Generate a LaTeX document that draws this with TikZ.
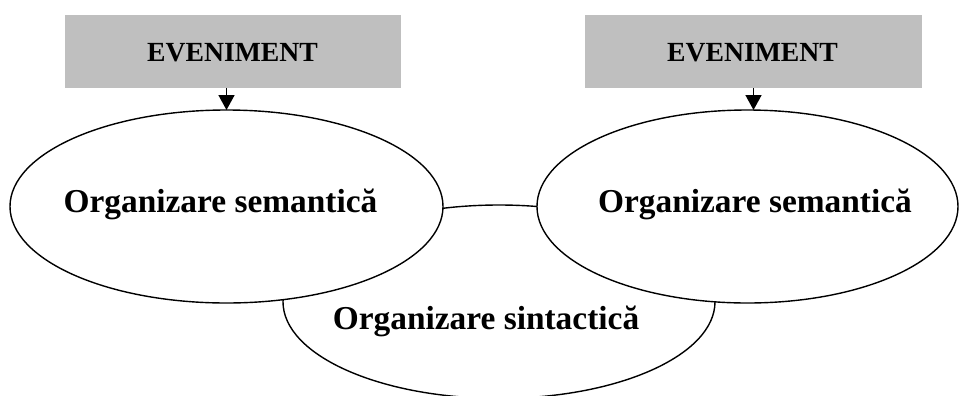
\documentclass[tikz,border=0pt]{standalone}
\usepackage{fontspec}
\setmainfont{Liberation Serif}
\usetikzlibrary{shapes.geometric,arrows.meta}
\definecolor{boxgray}{RGB}{191,191,191}
\tikzset{
  evbox/.style={fill=boxgray, draw=none, minimum width=336bp, minimum height=73bp, inner sep=0pt, outer sep=0pt},
  orgell/.style={ellipse, draw=black, fill=white, line width=1.4bp, inner sep=0pt, outer sep=0pt},
  evtext/.style={anchor=base, inner sep=0pt, font=\fontsize{27.7bp}{30bp}\selectfont\bfseries},
  orgtext/.style={anchor=base, inner sep=0pt, font=\fontsize{33.4bp}{36bp}\selectfont\bfseries},
  evarrow/.style={line width=1.6bp, -{Triangle[width=16bp,length=15bp]}}
}
\begin{document}
\begin{tikzpicture}[x=1bp,y=-1bp]
\useasboundingbox (0,0) rectangle (959,395);
% bottom ellipse first
\node[orgell, minimum width=432bp, minimum height=193.4bp] (sin) at (499,301.7) {};
\node[orgell, minimum width=433bp, minimum height=193bp] (semL) at (226.5,206.5) {};
\node[orgell, minimum width=421bp, minimum height=193bp] (semR) at (747.5,206.5) {};
% boxes
\node[evbox] (evL) at (233,51.5) {};
\node[evbox, minimum width=337bp] (evR) at (753.5,51.5) {};
% texts
\node[evtext] (tevL) at (232.5,61) {EVENIMENT};
\node[evtext] (tevR) at (752.5,61) {EVENIMENT};
\node[orgtext] (tsemL) at (220.5,212) {Organizare semantică};
\node[orgtext] (tsemR) at (755,212) {Organizare semantică};
\node[orgtext] (tsin) at (486,329) {Organizare sintactică};
% arrows
\draw[evarrow] (evL.south -| semL.north) -- (semL.north);
\draw[evarrow] (evR.south) -- (evR.south |- semR.north);
\end{tikzpicture}
\end{document}
